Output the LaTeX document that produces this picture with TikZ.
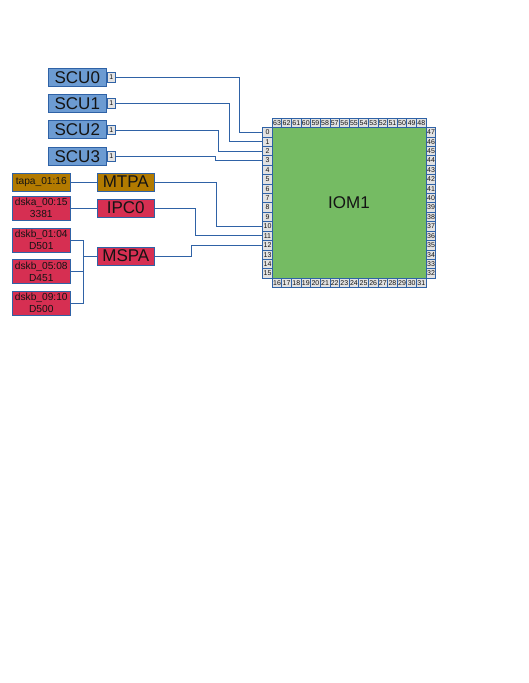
\documentclass[tikz,border=0pt]{standalone}
\usepackage{fontspec}
\setmainfont{Liberation Sans}
\usepackage{xcolor}
\definecolor{wirecol}{HTML}{2F62A6}
\definecolor{scucol}{HTML}{6C9BD2}
\definecolor{tapecol}{HTML}{B27A00}
\definecolor{diskcol}{HTML}{D62F52}
\definecolor{iomcol}{HTML}{75BB63}
\definecolor{portcol}{HTML}{E2E2E2}
\definecolor{inkcol}{HTML}{141414}
\tikzset{
  wire/.style={draw=wirecol, line width=0.8pt},
  unitbox/.style={draw=wirecol, line width=0.9pt, inner sep=0pt, text=inkcol,
    minimum width=58pt, minimum height=18pt, font=\fontsize{17}{18}\selectfont},
  scubox/.style={unitbox, fill=scucol},
  srcbox/.style={unitbox, align=center, font=\fontsize{10.2}{12}\selectfont},
  portbox/.style={draw=wirecol, line width=0.8pt, fill=portcol, inner sep=0pt, text=inkcol,
    font=\fontsize{7}{8}\selectfont},
  hport/.style={portbox, minimum width=9.62pt, minimum height=9.5pt},
  vport/.style={portbox, minimum width=9.5pt, minimum height=9.42pt}
}

\begin{document}
\begin{tikzpicture}[x=1pt, y=-1pt]
  \useasboundingbox (0,0) rectangle (528,683);

  % IOM
  \node[draw=iomcol, fill=iomcol, line width=0.8pt, inner sep=0pt, minimum width=154pt, minimum height=150.7pt,
        text=inkcol, font=\fontsize{17}{18}\selectfont] (iom) at (349,202.8) {IOM1};

  % Ports
  \foreach \i in {0,...,15} {
    \pgfmathsetmacro{\off}{\i*9.42+4.71}
    \pgfmathtruncatemacro{\nb}{16+\i}
    \pgfmathtruncatemacro{\nr}{47-\i}
    \pgfmathtruncatemacro{\nt}{63-\i}
    \node[vport] (p\i) at (267.5,127.5+\off) {\i};
    \node[vport] (p\nr) at (431,127.5+\off) {\nr};
    \pgfmathsetmacro{\off}{\i*9.62+4.81}
    \node[hport] (p\nt) at (272.2+\off,122.7) {\nt};
    \node[hport] (p\nb) at (272.2+\off,282.9) {\nb};
  }

  % SCUs
  \node[scubox] (scu0) at (77.3,77.5) {SCU0};
  \node[scubox] (scu1) at (77.3,103.5) {SCU1};
  \node[scubox] (scu2) at (77.3,129.5) {SCU2};
  \node[scubox] (scu3) at (77.3,156.5) {SCU3};
  \foreach \n/\y in {0/77.5,1/103.5,2/130,3/156.5} {
    \node[portbox, minimum width=8.5pt, minimum height=9.5pt] (scup\n) at (111.2,\y) {1};
  }

  % Adapters
  \node[unitbox, fill=tapecol, minimum width=57.5pt] (mtpa) at (125.8,182) {MTPA};
  \node[unitbox, fill=diskcol, minimum width=57.5pt] (ipc0) at (125.8,208) {IPC0};
  \node[unitbox, fill=diskcol, minimum width=57.5pt] (mspa) at (125.8,256) {MSPA};

  % Devices
  \node[srcbox, fill=tapecol] (tapa) at (41.3,182) {tapa\_01:16};
  \node[srcbox, fill=diskcol, minimum height=24pt] (dska) at (41.3,208) {dska\_00:15\\3381};
  \node[srcbox, fill=diskcol, minimum height=24pt] (dskba) at (41.3,240) {dskb\_01:04\\D501};
  \node[srcbox, fill=diskcol, minimum height=24pt] (dskbb) at (41.3,271.5) {dskb\_05:08\\D451};
  \node[srcbox, fill=diskcol, minimum height=24pt] (dskbc) at (41.3,303.3) {dskb\_09:10\\D500};

  % SCU wires
  \draw[wire] (scup0.east) -- ++(123.3,0) |- (p0.west);
  \draw[wire] (scup1.east) -- ++(113.3,0) |- (p1.west);
  \draw[wire] (scup2.east) -- ++(102.5,0) |- (p2.west);
  \draw[wire] (scup3.east) -- ++(99.3,0) |- (p3.west);

  % Adapter wires
  \draw[wire] (mtpa.east) -- ++(61,0) |- (p10.west);
  \draw[wire] (ipc0.east) -- ++(40,0) |- (p11.west);
  \draw[wire] (mspa.east) -- ++(36,0) |- (p12.west);

  % Device wires
  \draw[wire] (tapa.east) -- (mtpa.west);
  \draw[wire] (dska.east) -- (ipc0.west);
  \draw[wire] (dskba.east) -- ++(12.5,0) |- (mspa.west);
  \draw[wire] (dskbb.east) -- ++(12.5,0);
  \draw[wire] (dskbc.east) -- ++(12.5,0) |- (mspa.west);
\end{tikzpicture}
\end{document}
